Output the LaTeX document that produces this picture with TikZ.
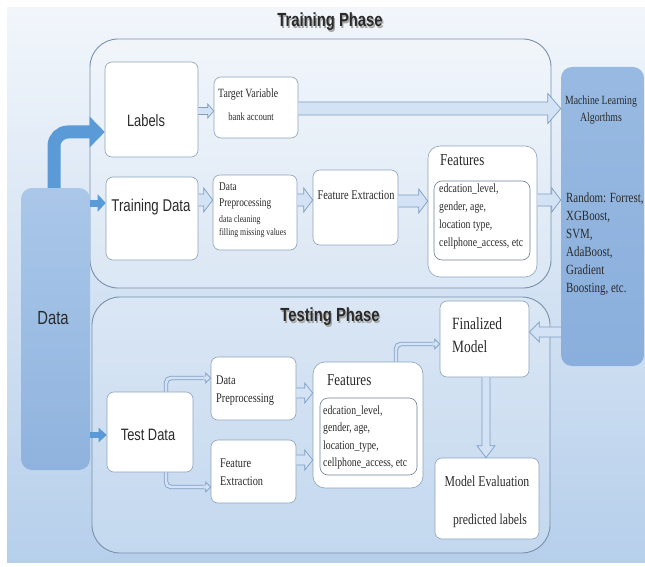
\documentclass[tikz,border=0pt]{standalone}
\usepackage{fontspec}
\setmainfont{Liberation Serif}[FakeStretch=0.78]
\newfontfamily\sansf{Liberation Sans}[FakeStretch=0.78]
\usetikzlibrary{calc,arrows.meta}
\definecolor{bgtop}{HTML}{F2F6FB}
\definecolor{bgbot}{HTML}{B6CFEB}
\definecolor{phaseline}{HTML}{7890AA}
\definecolor{boxline}{HTML}{8CA3BC}
\definecolor{textc}{HTML}{2A2A2A}
\definecolor{datatop}{HTML}{AAC7E9}
\definecolor{databot}{HTML}{8FB3DE}
\definecolor{mltop}{HTML}{98BAE2}
\definecolor{mlbot}{HTML}{8AAFDC}
\definecolor{thickblue}{HTML}{5A9AD6}
\definecolor{arrfill}{HTML}{D3E3F5}
\definecolor{arrline}{HTML}{7E9DC3}
\newcommand\fs[1]{\fontsize{#1}{#1}\selectfont}
\begin{document}
\begin{tikzpicture}[x=1pt,y=-1pt,
  phase/.style={draw=phaseline, line width=0.9pt, rounded corners=28pt, fill=white, fill opacity=0.18},
  wbox/.style={draw=boxline, line width=0.6pt, fill=white, rounded corners=7pt},
  ibox/.style={draw=boxline!80!black, line width=0.6pt, fill=white, rounded corners=8pt},
  bluebox/.style={rounded corners=11pt, draw=none},
  txt/.style={inner sep=0pt, text=textc},
  harr/.style n args={3}{draw=arrline, fill=arrfill, line width=0.7pt, line join=miter,
    to path={($(\tikztotarget)!#3!(\tikztostart)$) coordinate (hau)
      ($(\tikztostart)!#1!90:(\tikztotarget)$) -- ($(hau)!#1!90:(\tikztotarget)$)
      -- ($(hau)!#2!90:(\tikztotarget)$) -- (\tikztotarget)
      -- ($(hau)!#2!-90:(\tikztotarget)$) -- ($(hau)!#1!-90:(\tikztotarget)$)
      -- ($(\tikztostart)!#1!-90:(\tikztotarget)$)}},
  bigarr/.style={harr={6pt}{12pt}{9pt}},
  midarr/.style={harr={3.5pt}{7pt}{6pt}},
  longarr/.style={harr={6.5pt}{15pt}{13pt}},
  smallarr/.style={harr={1.9pt}{5pt}{5pt}},
  conn/.style={draw=arrline, line width=4.4pt, rounded corners=5pt,
    postaction={draw=arrfill, line width=2.8pt}},
  solidarr/.style={draw=thickblue}
]
\useasboundingbox (0,0) rectangle (645,567);
\fill[white] (0,0) rectangle (645,567);
\node[inner sep=0pt, minimum width=638pt, minimum height=554pt, top color=bgtop, bottom color=bgbot, draw=none] (bg) at (326,285) {};

% phase frames
\node[phase, minimum width=461pt, minimum height=249pt] (train) at (320.5,163.5) {};
\node[phase, minimum width=458pt, minimum height=256pt] (test) at (321,425) {};

% side blocks
\node[bluebox, minimum width=69pt, minimum height=282pt, top color=datatop, bottom color=databot] (data) at (55.5,329) {};
\node[bluebox, minimum width=83pt, minimum height=299pt, top color=mltop, bottom color=mlbot] (ml) at (602.5,216.5) {};

% titles
\node[txt, text=black!35, font=\sansf\bfseries\fs{19}] (ttlsh) at (331.3,23.3) {Training Phase};
\node[txt, font=\sansf\bfseries\fs{19}] (ttl) at (330,22) {Training Phase};
\node[txt, text=black!35, font=\sansf\bfseries\fs{19}] (tstsh) at (331.3,318.3) {Testing Phase};
\node[txt, font=\sansf\bfseries\fs{19}] (tst) at (330,317) {Testing Phase};

% training boxes
\node[wbox, minimum width=93pt, minimum height=95pt] (labels) at (151.5,109.5) {};
\node[wbox, minimum width=84pt, minimum height=61pt] (tv) at (256,107.5) {};
\node[wbox, minimum width=92pt, minimum height=83pt] (trd) at (152,218.5) {};
\node[wbox, minimum width=84pt, minimum height=75pt] (dp) at (255,212.5) {};
\node[wbox, minimum width=85pt, minimum height=75pt] (fe) at (355.5,207.5) {};
\node[wbox, rounded corners=12pt, minimum width=109pt, minimum height=131pt] (feat) at (482.5,211.5) {};
\node[ibox, minimum width=96pt, minimum height=79pt] (feati) at (482,220.5) {};

% testing boxes
\node[wbox, minimum width=89pt, minimum height=76pt] (fm) at (484.5,339) {};
\node[wbox, minimum width=86pt, minimum height=80pt] (td) at (150,432) {};
\node[wbox, minimum width=85pt, minimum height=63pt] (dp2) at (253.5,388.5) {};
\node[wbox, minimum width=85pt, minimum height=63pt] (fe2) at (253.5,471.5) {};
\node[wbox, rounded corners=12pt, minimum width=110pt, minimum height=126pt] (feat2) at (368,425) {};
\node[ibox, minimum width=97pt, minimum height=77pt] (feat2i) at (368.5,436.5) {};
\node[wbox, minimum width=104pt, minimum height=81pt] (me) at (487,498.5) {};

% texts
\node[txt, font=\sansf\fs{16.5}] (tLabels) at (146,121) {Labels};
\node[txt, font=\sansf\fs{17}] (tTrd) at (151,207) {Training Data};
\node[txt, font=\sansf\fs{16.5}] (tTd) at (148,435) {Test Data};
\node[txt, font=\sansf\fs{19}] (tData) at (53,318) {Data};

\node[txt, anchor=mid west, font=\fs{12.6}] (tv1) at (218,95) {Target Variable};
\node[txt, anchor=mid, font=\fs{11}] (tv2) at (251,118) {bank account};

\node[txt, anchor=mid west, font=\fs{11.9}] (dp1) at (219,188) {Data};
\node[txt, anchor=mid west, font=\fs{11.9}] (dp2t) at (219,204) {Preprocessing};
\node[txt, anchor=mid west, font=\fs{10}] (dp3) at (219,220) {data cleaning};
\node[txt, anchor=mid west, font=\fs{10}] (dp4) at (219,233) {filling missing values};

\node[txt, anchor=mid, font=\fs{13.3}] (fe1) at (356,197) {Feature Extraction};

\node[txt, anchor=mid west, font=\fs{16.7}] (ft) at (440,163) {Features};
\node[txt, anchor=mid west, font=\fs{12.5}] (f1) at (439,190) {edcation\_level,};
\node[txt, anchor=mid west, font=\fs{12.5}] (f2) at (439,208) {gender, age,};
\node[txt, anchor=mid west, font=\fs{12.5}] (f3) at (439,226) {location type,};
\node[txt, anchor=mid west, font=\fs{12.5}] (f4) at (439,244) {cellphone\_access, etc};

\node[txt, anchor=mid, font=\fs{12.5}] (ml1) at (601,102) {Machine Learning};
\node[txt, anchor=mid, font=\fs{12.5}] (ml2) at (601,119) {Algorthms};
\node[txt, anchor=mid west, font=\fs{14}] (r1) at (566,200) {Random: Forrest,};
\node[txt, anchor=mid west, font=\fs{14}] (r2) at (566,218) {XGBoost,};
\node[txt, anchor=mid west, font=\fs{14}] (r3) at (566,236) {SVM,};
\node[txt, anchor=mid west, font=\fs{14}] (r4) at (566,254) {AdaBoost,};
\node[txt, anchor=mid west, font=\fs{14}] (r5) at (566,272) {Gradient};
\node[txt, anchor=mid west, font=\fs{14}] (r6) at (566,290) {Boosting, etc.};

\node[txt, anchor=mid west, font=\fs{17.2}] (fm1) at (452,327) {Finalized};
\node[txt, anchor=mid west, font=\fs{17.2}] (fm2) at (452,350) {Model};

\node[txt, anchor=mid west, font=\fs{13.2}] (dq1) at (216,382) {Data};
\node[txt, anchor=mid west, font=\fs{13.2}] (dq2) at (216,400) {Preprocessing};
\node[txt, anchor=mid west, font=\fs{13.2}] (fq1) at (220,465) {Feature};
\node[txt, anchor=mid west, font=\fs{13.2}] (fq2) at (220,483) {Extraction};

\node[txt, anchor=mid west, font=\fs{16.7}] (gt) at (327,383) {Features};
\node[txt, anchor=mid west, font=\fs{12.5}] (g1) at (323,412) {edcation\_level,};
\node[txt, anchor=mid west, font=\fs{12.5}] (g2) at (323,429) {gender, age,};
\node[txt, anchor=mid west, font=\fs{12.5}] (g3) at (323,447) {location\_type,};
\node[txt, anchor=mid west, font=\fs{12.5}] (g4) at (323,464) {cellphone\_access, etc};

\node[txt, anchor=mid, font=\fs{15.1}] (me1) at (487,484) {Model Evaluation};
\node[txt, anchor=mid, font=\fs{15}] (me2) at (490,522) {predicted labels};

% solid blue arrows from Data
\coordinate (dx) at (54,0);
\draw[solidarr, line width=13pt, rounded corners=14pt, -{Triangle[width=30pt,length=15pt]}]
  (data.north -| dx) |- (labels.west |- 0,132);
\draw[solidarr, line width=7pt, -{Triangle[width=17pt,length=8pt]}] (data.east |- 0,203) -- (trd.west |- 0,203);
\draw[solidarr, line width=6pt, -{Triangle[width=14pt,length=8pt]}] (data.east |- 0,435) -- (td.west |- 0,435);

% hollow arrows training
\draw[midarr] (labels.east |- 0,111) to (tv.west |- 0,111);
\draw[longarr] (tv.east |- 0,108.5) to (ml.west |- 0,108.5);
\draw[bigarr] (trd.east |- 0,200) to (dp.west |- 0,200);
\draw[bigarr] (dp.east |- 0,200) to (fe.west |- 0,200);
\draw[bigarr] (fe.east |- 0,201) to (feat.west |- 0,201);
\draw[bigarr] (feat.east |- 0,200) to (ml.west |- 0,200);

% hollow arrows testing
\draw[harr={5pt}{10pt}{10pt}] (ml.west |- 0,332) to (fm.east |- 0,332);
\coordinate (fmx) at (486,0);
\draw[harr={4pt}{9pt}{12pt}] (fm.south -| fmx) to (me.north -| fmx);
\draw[harr={5pt}{10pt}{8pt}] (dp2.east |- 0,393) to (feat2.west |- 0,393);
\draw[harr={5pt}{10pt}{8pt}] (fe2.east |- 0,460) to (feat2.west |- 0,460);

% bent connectors
\coordinate (tdx) at (166,0);
\coordinate (k1) at ($(dp2.west |- 0,378)+(-7,0)$);
\coordinate (k2) at ($(fe2.west |- 0,487)+(-7,0)$);
\draw[conn] (td.north -| tdx) |- (k1);
\draw[smallarr] (k1) to (dp2.west |- k1);
\draw[conn] (td.south -| tdx) |- (k2);
\draw[smallarr] (k2) to (fe2.west |- k2);
\coordinate (f2x) at (396,0);
\coordinate (k3) at ($(fm.west |- 0,344)+(-7,0)$);
\draw[conn] (feat2.north -| f2x) |- (k3);
\draw[smallarr] (k3) to (fm.west |- k3);
\end{tikzpicture}
\end{document}
